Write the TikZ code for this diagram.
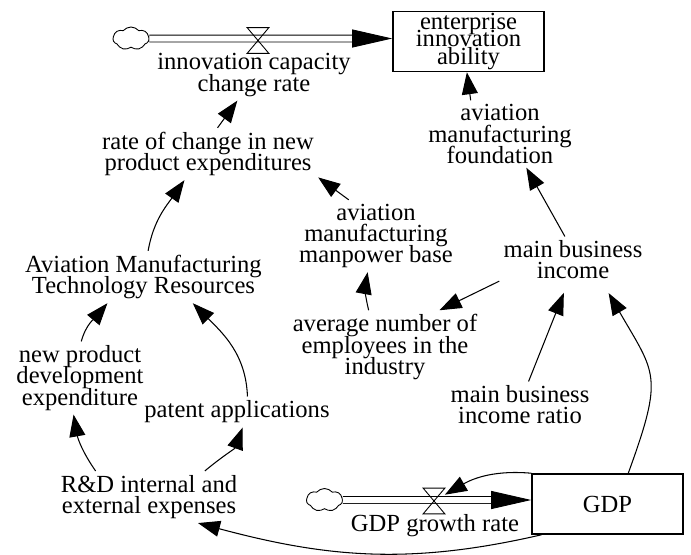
\documentclass[tikz,border=0pt]{standalone}
\usepackage{fontspec}
\setmainfont{Liberation Serif}
\usetikzlibrary{arrows.meta,shapes.symbols}

\newcommand{\varfont}{\fontsize{14}{12}\selectfont\lineskiplimit=-20pt\relax}
\newcommand{\stockfont}{\fontsize{14}{10.2}\selectfont\lineskiplimit=-20pt\relax}

\begin{document}
\begin{tikzpicture}[x=0.02cm, y=-0.02cm,
    var/.style={align=center, font=\varfont, inner sep=0.08cm},
    stock/.style={draw, line width=0.9pt, align=center, font=\stockfont,
      minimum width=3.02cm, minimum height=1.2cm, inner sep=0pt},
    link/.style={line width=0.6pt, -{Triangle[length=0.44cm, width=0.32cm]}},
    pipe/.style={line width=0.5pt, double, double distance=0.12cm,
      -{Triangle[length=0.8cm, width=0.36cm]}},
    valve/.style={minimum width=0.42cm, minimum height=0.5cm, inner sep=0pt},
    source/.style={shape=cloud, draw, line width=0.5pt, cloud puffs=7,
      cloud puff arc=100, aspect=1.5, minimum width=0.72cm,
      minimum height=0.46cm, inner sep=0pt}]

      \useasboundingbox (0,0) rectangle (691,555);

      %Stocks
      \node [stock] (eia) at (468.5,41.5) {enterprise\\innovation\\ability};
      \node [stock] (gdp) at (607.5,504) {GDP};

      %Flows
      \node [source] (cloudT) at (131,38.5) {};
      \node [valve] (vT) at (258,40.5) {};
      \node [source] (cloudG) at (324.5,500) {};
      \node [valve] (vG) at (434,501) {};
      \draw [pipe] (cloudT) -- (cloudT -| eia.west);
      \draw [pipe] (cloudG) -- (cloudG -| gdp.west);
      \foreach \v in {vT, vG} {
        \draw [line width=0.5pt] (\v.north west) -- (\v.north east)
          -- (\v.south west) -- (\v.south east) -- cycle;
      }

      %Variables
      \node [var] (icr) at (254,75) {innovation capacity\\change rate};
      \node [var] (rcnpe) at (208,154) {rate of change in new\\product expenditures};
      \node [var] (amf) at (500,134) {aviation\\manufacturing\\foundation};
      \node [var] (ammb) at (376,236) {aviation\\manufacturing\\manpower base};
      \node [var] (mbi) at (573,260) {main business\\income};
      \node [var] (anei) at (385,347) {average number of\\employees in the\\industry};
      \node [var] (mbir) at (520,405) {main business\\income ratio};
      \node [var] (amtr) at (143.5,277) {Aviation Manufacturing\\Technology Resources};
      \node [var] (npde) at (80,378) {new product\\development\\expenditure};
      \node [var] (pa) at (237,412) {patent applications};
      \node [var] (rd) at (149,497) {R\&D internal and\\external expenses};
      \node [var] (gdpr) at (435,526) {GDP growth rate};

      %Links
      \draw [link] (rcnpe.70) -- (icr.237);
      \draw [link] (amf.131) -- (eia.267);
      \draw [link] (ammb.127) -- (rcnpe.348);
      \draw [link] (mbi.109) -- (amf.308);
      \draw [link] (anei.114) to[bend left=12] (ammb.257);
      \draw [link] (mbi.196) -- (anei.34);
      \draw [link, shorten >=0.2cm] (mbir.70) -- (mbi.257);
      \draw [link, shorten >=0.22cm] (gdp.56) to[out=70, in=-60, looseness=1.4] (mbi.322);
      \draw [link] (gdp.north west) to[out=175, in=30] (vG);
      \draw [link] (gdp.205) to[out=193, in=-15] (rd.332);
      \draw [link] (rd.154) to[out=125, in=-80] (npde.260);
      \draw [link] (rd.25) to[out=40, in=-110] (pa.290);
      \draw [link] (npde.88) to[out=75, in=-130] (amtr.216);
      \draw [link] (pa.56) to[out=92, in=-45] (amtr.332);
      \draw [link] (amtr.80) to[out=80, in=-125] (rcnpe.228);
    \end{tikzpicture}
\end{document}
